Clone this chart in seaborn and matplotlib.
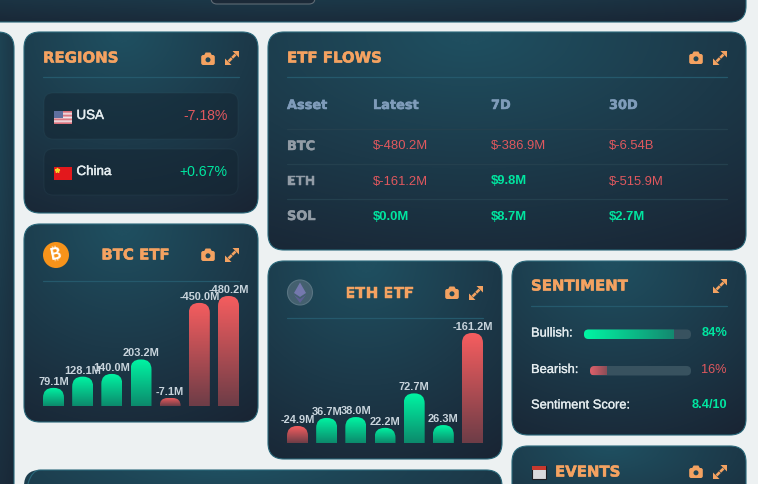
# === CRYPTO DASHBOARD CARDS - ETF FLOW BARS ===

import numpy as np
import pandas as pd
import matplotlib
matplotlib.use("Agg")
import matplotlib.pyplot as plt
import matplotlib.patheffects as pe
import seaborn as sns
from matplotlib.colors import to_rgb
from matplotlib.patches import FancyBboxPatch, PathPatch, Polygon, Circle, Rectangle
from matplotlib.path import Path

# === Data ===
btc_days = ["d1", "d2", "d3", "d4", "d5", "d6", "d7"]
btc_flows = [79.1, 128.1, 140.0, 203.2, -7.1, -450.0, -480.2]
eth_days = ["d1", "d2", "d3", "d4", "d5", "d6", "d7"]
eth_flows = [-24.9, 36.7, 38.0, 22.2, 72.7, 26.3, -161.2]

region_names = ["USA", "China"]
region_changes = ["-7.18%", "+0.67%"]

table_columns = ["Asset", "Latest", "7D", "30D"]
table_assets = ["BTC", "ETH", "SOL"]
table_latest = ["$-480.2M", "$-161.2M", "$0.0M"]
table_7d = ["$-386.9M", "$9.8M", "$8.7M"]
table_30d = ["$-6.54B", "$-515.9M", "$2.7M"]

bullish_pct = 84
bearish_pct = 16
sentiment_score = "8.4/10"

ORANGE = "#f4a261"
GREEN = "#00e6a0"
RED = "#e0585e"
LIGHT = "#e4ecef"

sns.set_theme(style="white")
plt.rcParams["font.family"] = ["Liberation Sans", "DejaVu Sans"]

fig = plt.figure(figsize=(7.58, 4.84), dpi=100, facecolor="#edf1f2")
page = fig.add_axes([0, 0, 1, 1])
page.set_xlim(0, 758)
page.set_ylim(484, 0)
page.axis("off")


def vertical_ramp(top, bottom, n=64):
    t = np.linspace(0, 1, n)[:, None, None]
    return (1 - t) * np.array(to_rgb(top))[None, None, :] + t * np.array(to_rgb(bottom))[None, None, :]


def thicken(color, width=0.35):
    return [pe.withStroke(linewidth=width, foreground=color)]


# === Cards ===
def card(x0, y0, x1, y1, radius=16):
    xx, yy = np.meshgrid(np.linspace(0, 1, 160), np.linspace(0, 1, 160))
    t = np.clip(np.sqrt(((xx - 0.42) / 1.05) ** 2 + (yy / 1.2) ** 2) * 1.05 - 0.05, 0, 1)[..., None]
    img = (1 - t) * np.array(to_rgb("#1f4e5f")) + t * np.array(to_rgb("#192433"))
    box = FancyBboxPatch((x0, y0), x1 - x0, y1 - y0, boxstyle=f"round,pad=0,rounding_size={radius}",
                         facecolor="none", edgecolor="#2a687a", lw=0.8, zorder=2)
    page.add_patch(box)
    im = page.imshow(img, extent=(x0, x1, y1, y0), aspect="auto", zorder=1, interpolation="bilinear")
    im.set_clip_path(box)


def camera(x, y):
    page.add_patch(FancyBboxPatch((x - 6.8, y - 4), 13.6, 10, boxstyle="round,pad=0,rounding_size=2",
                                  fc=ORANGE, ec="none", zorder=4))
    page.add_patch(Polygon([(x - 3.8, y - 4), (x - 2.4, y - 6.5), (x + 2.4, y - 6.5), (x + 3.8, y - 4)],
                           fc=ORANGE, ec="none", zorder=4))
    page.add_patch(Circle((x, y + 0.8), 2.5, fc="#1f4656", ec="none", zorder=5))


def expand(x, y):
    page.add_patch(Polygon([(x + 7, y - 7), (x + 0.5, y - 7), (x + 7, y - 0.5)], fc=ORANGE, ec="none", zorder=4))
    page.add_patch(Polygon([(x - 7, y + 7), (x - 0.5, y + 7), (x - 7, y + 0.5)], fc=ORANGE, ec="none", zorder=4))
    page.plot([x + 3.5, x + 0.2], [y - 3.5, y - 0.2], color=ORANGE, lw=1.9, zorder=4, solid_capstyle="butt")
    page.plot([x - 3.5, x - 0.2], [y + 3.5, y + 0.2], color=ORANGE, lw=1.9, zorder=4, solid_capstyle="butt")


def title(s, x, y, ha="left"):
    page.text(x, y, s, color=ORANGE, fontsize=10.75, fontweight="bold", family="DejaVu Sans",
              ha=ha, va="center", zorder=4, path_effects=thicken(ORANGE))


def divider(x0, x1, y, color="#25596c"):
    page.plot([x0, x1], [y, y], color=color, lw=0.9, zorder=3)


card(-30, -40, 746, 22)
card(-40, 32, 14, 540)
card(24, 32, 258, 213)
card(268, 32, 746, 250)
card(24, 224, 258, 422)
card(268, 261, 502, 459)
card(512, 261, 746, 435)
card(512, 446, 746, 540)
card(24, 470, 502, 540)

page.add_patch(FancyBboxPatch((211, -12), 104, 16, boxstyle="round,pad=0,rounding_size=6",
                              fc="#1c2a38", ec="#5f6b75", lw=0.8, zorder=3))

# === Regions ===
title("REGIONS", 43, 58)
camera(208, 59)
expand(232, 58)
divider(43, 239, 77)
for i, (name, change) in enumerate(zip(region_names, region_changes)):
    top = 93 + i * 56
    page.add_patch(FancyBboxPatch((44, top), 194, 46, boxstyle="round,pad=0,rounding_size=9",
                                  fc=(0.08, 0.15, 0.20, 0.55), ec=(0.25, 0.4, 0.45, 0.15), lw=0.8, zorder=3))
    page.text(76.5, top + 23, name, color=LIGHT, fontsize=9.6, va="center", zorder=4,
              path_effects=thicken(LIGHT))
    page.text(227.5, top + 23, change, color=RED if change.startswith("-") else GREEN,
              fontsize=10.1, ha="right", va="center", zorder=4)

# flags
stripes = np.array([to_rgb("#d9707a") if k % 2 == 0 else to_rgb("#f0e6ea") for k in range(7)])[:, None, :]
page.imshow(stripes, extent=(54, 72, 124, 111), aspect="auto", zorder=4, interpolation="bilinear")
page.add_patch(Rectangle((54, 111), 8.5, 6.5, fc="#5f6f9e", ec="none", zorder=5))
page.add_patch(Rectangle((54, 167), 18, 13, fc="#e3181c", ec="none", zorder=4))
page.plot([57], [170], marker="*", color="#f5d327", ms=3.5, zorder=5)

# === ETF Flows table ===
title("ETF FLOWS", 287, 58)
camera(696, 58)
expand(720, 58)
divider(287, 727, 77)
col_x = [287, 373, 491, 609]
for x, col in zip(col_x, table_columns):
    page.text(x, 105.5, col, color="#7f9cba", fontsize=9.3, fontweight="bold", family="DejaVu Sans",
              va="center", zorder=4, path_effects=thicken("#7f9cba"))
for y in [128.5, 163.5, 198.5]:
    divider(287, 727, y, color="#24404e")
for r, asset in enumerate(table_assets):
    y = 146.5 + r * 35
    page.text(287, y, asset, color="#929ca6", fontsize=9.3, fontweight="bold", family="DejaVu Sans",
              va="center", zorder=4, path_effects=thicken("#929ca6"))
    for x, s in zip(col_x[1:], [table_latest[r], table_7d[r], table_30d[r]]):
        neg = s.startswith("$-")
        page.text(x, y, s, color=RED if neg else GREEN, fontsize=9.4, fontweight="normal" if neg else "bold",
                  va="center", zorder=4)


# === Bar charts ===
def flow_bars(days, flows, left, top, bottom, floor=0.0):
    ax = fig.add_axes([left / 758, 1 - bottom / 484, 196 / 758, (bottom - top) / 484], zorder=3)
    df = pd.DataFrame({"day": days, "flow": flows})
    df["height"] = df["flow"].abs().clip(lower=floor)
    sns.barplot(data=df, x="day", y="height", color="#00e6a0", width=0.72, ax=ax, errorbar=None)
    ax.set_xlim(-0.36, 6.36)
    ax.set_ylim(0, df["height"].max())
    ax.patch.set_alpha(0)
    ax.axis("off")
    px_x = 196 / (ax.get_xlim()[1] - ax.get_xlim()[0])
    px_y = (bottom - top) / df["height"].max()
    for bar, flow in zip(list(ax.patches), flows):
        x0, w, h = bar.get_x(), bar.get_width(), bar.get_height()
        x1 = x0 + w
        r = min(10.0, h * px_y)
        rx, ry = r / px_x, r / px_y
        path = Path(
            [(x0, 0), (x0, h - ry), (x0, h), (x0 + rx, h), (x1 - rx, h), (x1, h), (x1, h - ry), (x1, 0), (x0, 0)],
            [Path.MOVETO, Path.LINETO, Path.CURVE3, Path.CURVE3, Path.LINETO,
             Path.CURVE3, Path.CURVE3, Path.LINETO, Path.CLOSEPOLY],
        )
        shape = PathPatch(path, fc="none", ec="none")
        ax.add_patch(shape)
        ramp = vertical_ramp("#00f5a3", "#0c8a6c") if flow >= 0 else vertical_ramp("#f55d5f", "#6e3d47")
        im = ax.imshow(ramp, extent=(x0, x1, 0, h), aspect="auto", zorder=2, interpolation="bilinear")
        im.set_clip_path(shape)
        bar.set_visible(False)
        ax.annotate(f"{flow:.1f}M", (x0 + w / 2, h), xytext=(0, 6), textcoords="offset pixels",
                    ha="center", va="center", color="#c8d4dc", fontsize=7.9, fontweight="bold",
                    annotation_clip=False, zorder=4)
    ax.set_xlim(-0.36, 6.36)
    ax.set_ylim(0, df["height"].max())
    return ax


# very small bars keep a minimum height on the BTC card
flow_bars(btc_days, btc_flows, 43, 296, 406, floor=35)
flow_bars(eth_days, eth_flows, 287, 333, 443)

# BTC card head
title("BTC ETF", 135.5, 255, ha="center")
camera(208, 255)
expand(232, 255)
divider(43, 239, 281)
page.add_patch(Circle((56, 255), 13, fc="#f7931a", ec="none", zorder=4))
page.text(56, 255, "\u20bf", color="white", fontsize=12, fontweight="bold",
          family=["Inter", "Noto Sans", "Roboto", "Open Sans", "Lato", "DejaVu Sans"],
          rotation=12, ha="center", va="center", zorder=5)

# ETH card head
title("ETH ETF", 379.5, 293, ha="center")
camera(452, 293)
expand(476, 293)
divider(287, 483, 318)
page.add_patch(Circle((300, 292.5), 12.5, fc="#44606f", ec="#587482", lw=0.8, zorder=4))
page.add_patch(Polygon([(300, 282.5), (294, 293), (300, 297), (306, 293)], fc="#7478ad", ec="none", zorder=5))
page.add_patch(Polygon([(300, 299), (294, 295), (300, 303), (306, 295)], fc="#5b5f92", ec="none", zorder=5))

# === Sentiment ===
title("SENTIMENT", 531, 286)
expand(720, 286)
divider(531, 727, 306)


def sentiment_bar(x0, x1, y0, y1, pct, start, end):
    track = FancyBboxPatch((x0, y0), x1 - x0, y1 - y0, boxstyle="round,pad=0,rounding_size=4.5",
                           fc="#38525f", ec="none", zorder=3)
    page.add_patch(track)
    ramp = vertical_ramp(start, end).transpose(1, 0, 2)
    im = page.imshow(ramp, extent=(x0, x0 + (x1 - x0) * pct / 100, y1, y0), aspect="auto",
                     zorder=4, interpolation="bilinear")
    im.set_clip_path(track)


sentiment_bar(584, 691, 329.5, 339, bullish_pct, "#00f5a3", "#148a70")
sentiment_bar(590, 691, 366, 375.5, bearish_pct, "#e0606a", "#8a4e58")

page.text(531, 333.5, "Bullish:", color=LIGHT, fontsize=9.3, va="center", zorder=4, path_effects=thicken(LIGHT, 0.2))
page.text(531, 370, "Bearish:", color=LIGHT, fontsize=9.3, va="center", zorder=4, path_effects=thicken(LIGHT, 0.2))
page.text(531, 405.5, "Sentiment Score:", color=LIGHT, fontsize=9.3, va="center", zorder=4, path_effects=thicken(LIGHT, 0.2))
page.text(727, 333.5, f"{bullish_pct}%", color=GREEN, fontsize=9.2, fontweight="bold", ha="right", va="center", zorder=4)
page.text(727, 370, f"{bearish_pct}%", color=RED, fontsize=9.2, ha="right", va="center", zorder=4)
page.text(727, 405.5, sentiment_score, color=GREEN, fontsize=9.2, fontweight="bold", ha="right", va="center", zorder=4)

# === Events ===
page.add_patch(Rectangle((532, 466), 14, 13, fc="#d9d9dc", ec="#1d1d22", lw=0.8, zorder=4))
page.add_patch(Rectangle((532, 466), 14, 3.5, fc="#c8392e", ec="none", zorder=5))
title("EVENTS", 555, 472)
camera(696, 472)
expand(720, 472)

fig.savefig("out.png", dpi=100, facecolor=fig.get_facecolor())
